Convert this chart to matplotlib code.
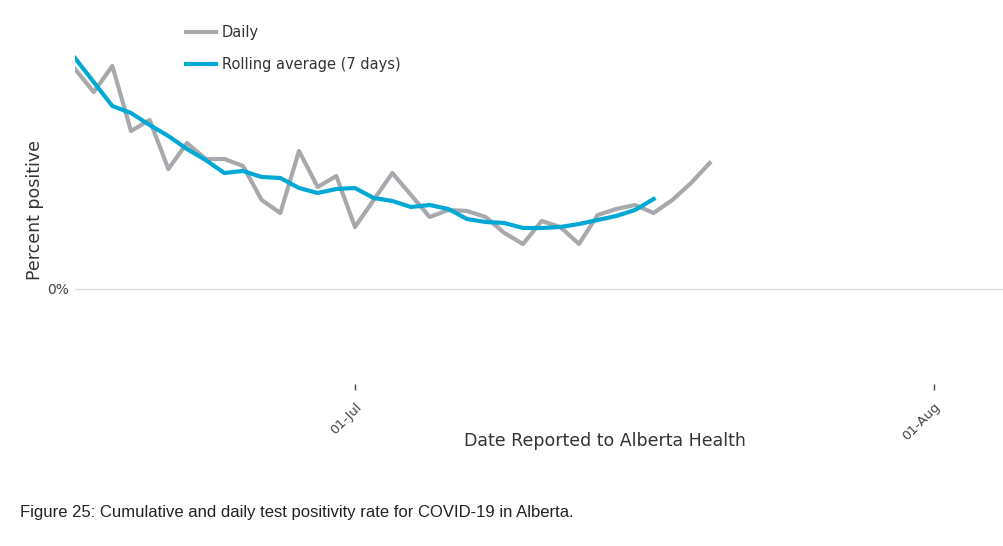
import numpy as np
import pandas as pd
import matplotlib
matplotlib.use("Agg")
import matplotlib.pyplot as plt
import matplotlib.dates as mdates

plt.rcParams["font.family"] = ["DejaVu Sans"]

# test positivity (%)
daily_dates = pd.date_range("2021-06-16", "2021-07-20", freq="D")
daily = [2.20, 1.97, 2.23, 1.58, 1.69, 1.20, 1.46, 1.30, 1.30, 1.23,
         0.89, 0.76, 1.38, 1.02, 1.13, 0.62, 0.89, 1.16, 0.94, 0.72,
         0.79, 0.78, 0.72, 0.56, 0.45, 0.68, 0.62, 0.45, 0.74, 0.80,
         0.84, 0.76, 0.89, 1.06, 1.26]

roll_dates = pd.date_range("2021-06-16", "2021-07-17", freq="D")
rolling = [2.31, 2.07, 1.83, 1.76, 1.64, 1.53, 1.40, 1.29, 1.16, 1.18,
           1.12, 1.11, 1.01, 0.96, 1.00, 1.01, 0.91, 0.88, 0.82, 0.84,
           0.80, 0.70, 0.67, 0.66, 0.61, 0.61, 0.62, 0.65, 0.69, 0.73,
           0.79, 0.90]

tick_dates = pd.to_datetime(["2021-07-01", "2021-08-01"])
tick_labels = ["01-Jul", "01-Aug"]

W, H = 1004, 546
fig = plt.figure(figsize=(W / 100, H / 100), dpi=100)
left, right, top, bottom = 75, 1004, 20, 384
ax = fig.add_axes([left / W, 1 - bottom / H, (right - left) / W, (bottom - top) / H])

ax.axhline(0, color="#dddddd", lw=1, zorder=1)
ax.plot(daily_dates, daily, color="#a7a9ac", lw=3, label="Daily", zorder=2)
ax.plot(roll_dates, rolling, color="#00a9d4", lw=3, label="Rolling average (7 days)",
        zorder=3)

x0 = mdates.date2num(pd.Timestamp("2021-06-16"))
x1 = mdates.date2num(pd.Timestamp("2021-07-01"))
px_per_day = (355 - 75) / (x1 - x0)
ax.set_xlim(x0, x0 + (right - left) / px_per_day)
zero_y = 289
ax.set_ylim(-(bottom - zero_y) / 100, (zero_y - top) / 100)

for s in ax.spines.values():
    s.set_visible(False)

ax.set_xticks(tick_dates)
ax.set_xticklabels(tick_labels, rotation=45, ha="right", va="top",
                   rotation_mode="anchor", fontsize=9.5, color="#444444")
ax.tick_params(axis="x", length=4, width=1, color="#444444", pad=8)
ax.set_yticks([0])
ax.set_yticklabels(["0%"], fontsize=10, color="#444444")
ax.tick_params(axis="y", length=0, pad=4)

ax.set_xlabel("Date Reported to Alberta Health", fontsize=12.5, color="#333333", va="center")
ax.xaxis.set_label_coords((605 - left) / (right - left), -(441 - bottom) / (bottom - top))
ax.set_ylabel("Percent positive", fontsize=12.5, color="#333333", va="center")
ax.yaxis.set_label_coords((35 - left) / (right - left), (bottom - 210) / (bottom - top))

leg = ax.legend(loc="upper left", bbox_to_anchor=(186 / W, 1 - 25 / H),
                bbox_transform=fig.transFigure, frameon=False, fontsize=10.5,
                handlelength=2.05, handletextpad=0.4, labelspacing=1.15,
                borderpad=0, borderaxespad=0)
for t in leg.get_texts():
    t.set_color("#333333")

fig.text(20 / W, 1 - 512 / H, "Figure 25: Cumulative and daily test positivity rate for COVID-19 in Alberta.",
         fontsize=12, family="Liberation Sans", color="#222222", va="center")

fig.savefig("out.png", dpi=100)
